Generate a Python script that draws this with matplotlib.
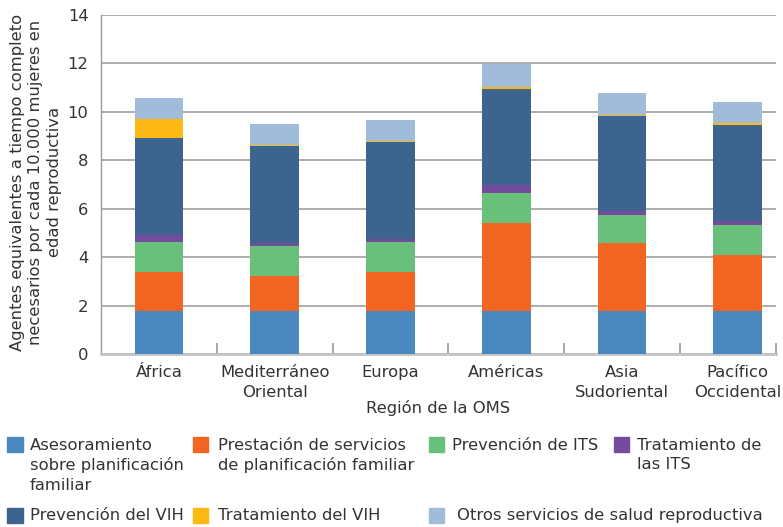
import numpy as np
import matplotlib
matplotlib.use("Agg")
import matplotlib.pyplot as plt
from matplotlib.patches import Rectangle

# data
regiones = ["África", "Mediterráneo\nOriental", "Europa", "Américas",
            "Asia\nSudoriental", "Pacífico\nOccidental"]
asesoramiento = [1.78, 1.78, 1.78, 1.78, 1.78, 1.78]
prestacion = [1.61, 1.46, 1.61, 3.62, 2.79, 2.32]
prev_its = [1.25, 1.23, 1.25, 1.23, 1.19, 1.22]
trat_its = [0.28, 0.13, 0.11, 0.35, 0.14, 0.16]
prev_vih = [3.99, 3.98, 4.00, 3.97, 3.93, 3.97]
trat_vih = [0.80, 0.04, 0.05, 0.08, 0.04, 0.10]
otros = [0.86, 0.87, 0.86, 0.93, 0.92, 0.87]

series_labels = ["Asesoramiento\nsobre planificación\nfamiliar",
                 "Prestación de servicios\nde planificación familiar",
                 "Prevención de ITS", "Tratamiento de\nlas ITS",
                 "Prevención del VIH", "Tratamiento del VIH",
                 "Otros servicios de salud reproductiva"]
colors = ["#4A89C0", "#F26522", "#69C07A", "#744C9D",
          "#3D638F", "#FDB913", "#A1BBDA"]
series = [asesoramiento, prestacion, prev_its, trat_its, prev_vih, trat_vih, otros]

plt.rcParams["font.family"] = ["DejaVu Sans"]
plt.rcParams["font.size"] = 11.8
text_col = "#333333"

W, H = 783, 527
fig = plt.figure(figsize=(W / 100, H / 100), dpi=100)
ax = fig.add_axes([101 / W, 1 - 354 / H, 675 / W, 339 / H])

x = np.arange(len(regiones))
bottom = np.zeros(len(regiones))
for vals, col in zip(series, colors):
    ax.bar(x, vals, width=0.42, bottom=bottom, color=col, zorder=3)
    bottom += np.array(vals)

xmax = 5.33
ax.set_xlim(-0.5, xmax)
ax.set_ylim(0, 14)
ax.set_yticks(range(0, 15, 2))
ax.yaxis.grid(True, color="#a0a0a0", lw=1.2, zorder=0)
ax.set_axisbelow(True)

for s in ["top", "right"]:
    ax.spines[s].set_visible(False)
ax.spines["left"].set_color("#9a9a9a")
ax.spines["left"].set_linewidth(1.0)
ax.spines["bottom"].set_color("#c4c4c4")
ax.spines["bottom"].set_linewidth(2.0)

ax.set_xticks(x)
ax.set_xticklabels(regiones, color=text_col, linespacing=1.38)
ax.set_xticks(list(x[:-1] + 0.5) + [xmax], minor=True)
ax.tick_params(axis="x", which="major", length=0, pad=8)
ax.tick_params(axis="x", which="minor", direction="in", length=8,
               color="#9a9a9a", width=1.2)
ax.tick_params(axis="y", length=0, pad=9, labelcolor=text_col)
ax.set_xlabel("Región de la OMS", color=text_col, labelpad=0)

fig.text(36 / W, 1 - 182 / H,
         "Agentes equivalentes a tiempo completo\nnecesarios por cada 10.000 mujeres en\nedad reproductiva",
         rotation=90, ha="center", va="center", multialignment="center",
         linespacing=1.3, color=text_col, fontsize=11.8)

# legend, placed by hand like the original
legend_pos = [(7.5, 437, 30), (193, 437, 218), (429, 437, 452), (614, 437, 637),
              (7.5, 507.5, 30), (193, 507.5, 218), (429, 507.5, 457)]
sq = 15
for (sx, sy, tx), lab, col in zip(legend_pos, series_labels, colors):
    fig.add_artist(Rectangle((sx / W, 1 - (sy + sq) / H), sq / W, sq / H,
                             transform=fig.transFigure, color=col))
    fig.text(tx / W, 1 - (sy + 0.5) / H, lab, ha="left", va="top",
             linespacing=1.38, color=text_col)

fig.savefig("out.png", dpi=100)
